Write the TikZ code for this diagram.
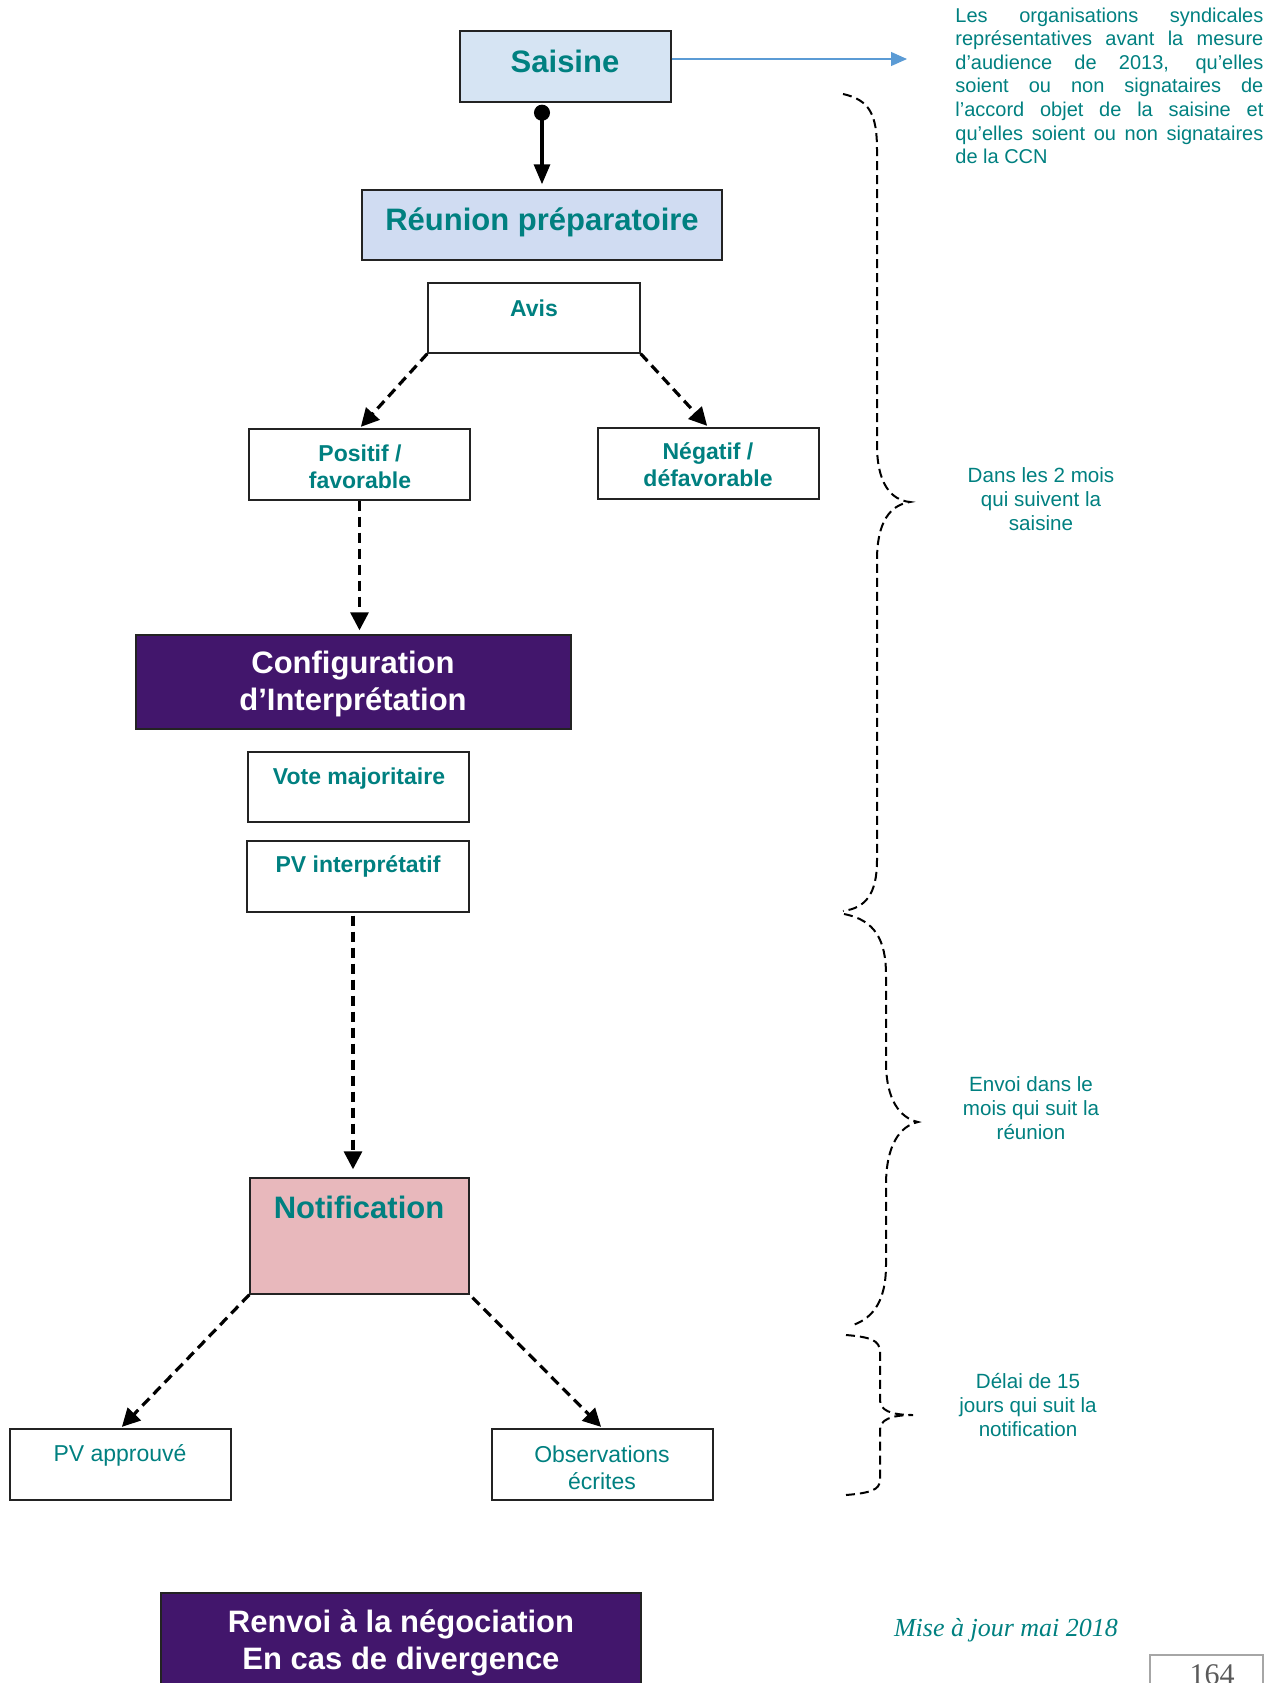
\documentclass[tikz,border=0pt]{standalone}
\usepackage{fontspec}
\setmainfont{Liberation Sans}
\newfontfamily\timesfont{Liberation Serif}
\usetikzlibrary{arrows.meta}
\definecolor{tealtxt}{RGB}{0,128,128}
\definecolor{boxline}{RGB}{35,35,35}
\definecolor{lightblue}{RGB}{214,228,243}
\definecolor{lightlilac}{RGB}{208,220,242}
\definecolor{darkpurple}{RGB}{66,22,108}
\definecolor{rosefill}{RGB}{232,184,188}
\definecolor{arrowblue}{RGB}{91,155,213}
\definecolor{pagegray}{RGB}{166,166,166}
\definecolor{numgray}{RGB}{90,90,90}
\begin{document}
\begin{tikzpicture}[x=0.5pt,y=-0.5pt,
  boxst/.style={draw=boxline, line width=0.7pt, rectangle, inner sep=0pt},
  bigtxt/.style={font=\fontsize{15.5}{18.5}\selectfont\bfseries, text=tealtxt, inner sep=0pt, anchor=base, align=center},
  whitetxt/.style={font=\fontsize{15.5}{18.5}\selectfont\bfseries, text=white, inner sep=0pt, anchor=base, align=center},
  midtxt/.style={font=\fontsize{11.5}{13.5}\selectfont\bfseries, text=tealtxt, inner sep=0pt, anchor=base, align=center},
  regtxt/.style={font=\fontsize{11.5}{13.5}\selectfont, text=tealtxt, inner sep=0pt, anchor=base, align=center},
  notetxt/.style={font=\fontsize{10.3}{12}\selectfont, text=tealtxt, inner sep=0pt, anchor=base, align=center},
  dconn/.style={line width=1.6pt, dash pattern=on 5pt off 3pt, -{Triangle[length=9pt,width=9pt]}},
  sconn/.style={line width=1.6pt, {Circle[length=8pt]}-{Triangle[length=10pt,width=8pt]}},
  bracest/.style={line width=1pt, dash pattern=on 4.5pt off 2.5pt},
]
\useasboundingbox (0,0) rectangle (1282,1683);

% boxes
\node[boxst, fill=lightblue, minimum width=105.5pt, minimum height=35.5pt] (saisine) at (565.5,66.5) {};
\node[boxst, fill=lightlilac, minimum width=180pt, minimum height=35pt] (reunion) at (542,225) {};
\node[boxst, minimum width=106pt, minimum height=35pt] (avis) at (534,318) {};
\node[boxst, minimum width=110.5pt, minimum height=35.5pt] (positif) at (359.5,464.5) {};
\node[boxst, minimum width=110.5pt, minimum height=35.5pt] (negatif) at (708.5,463.5) {};
\node[boxst, fill=darkpurple, minimum width=217.5pt, minimum height=47pt] (config) at (353.5,682) {};
\node[boxst, minimum width=110.5pt, minimum height=35pt] (vote) at (358.5,787) {};
\node[boxst, minimum width=111pt, minimum height=35.5pt] (pvint) at (358,876.5) {};
\node[boxst, fill=rosefill, minimum width=109.5pt, minimum height=58pt] (notif) at (359.5,1236) {};
\node[boxst, minimum width=110.5pt, minimum height=35.5pt] (pvapp) at (120.5,1464.5) {};
\node[boxst, minimum width=110.5pt, minimum height=35.5pt] (obs) at (602.5,1464.5) {};
\node[boxst, fill=darkpurple, minimum width=240pt, minimum height=63.5pt] (renvoi) at (401,1656.5) {};
\node[draw=pagegray, line width=1pt, rectangle, inner sep=0pt, minimum width=56.5pt, minimum height=32.5pt] (pagebox) at (1206.5,1687.5) {};

% texts (multi-line nodes: base = last line)
\node[bigtxt] (saisine-t) at (565,72) {Saisine};
\node[bigtxt] (reunion-t) at (542,230) {Réunion préparatoire};
\node[midtxt] (avis-t) at (534,316) {Avis};
\node[midtxt] (positif-t) at (360,488) {Positif /\\favorable};
\node[midtxt] (negatif-t) at (708,486) {Négatif /\\défavorable};
\node[whitetxt] (config-t) at (353,710) {Configuration\\d’Interprétation};
\node[midtxt] (vote-t) at (359,784) {Vote majoritaire};
\node[midtxt] (pvint-t) at (358,872) {PV interprétatif};
\node[bigtxt] (notif-t) at (359,1218) {Notification};
\node[regtxt] (pvapp-t) at (120,1461) {PV approuvé};
\node[regtxt] (obs-t) at (602,1489) {Observations\\écrites};
\node[whitetxt] (renvoi-t) at (401,1669) {Renvoi à la négociation\\En cas de divergence};

\node[anchor=base west, text width=154pt, align=justify, font=\fontsize{10}{11.8}\selectfont, text=tealtxt, inner sep=0pt] (tr) at (955,22)
 {Les organisations syndicales\linebreak représentatives avant la mesure\linebreak d’audience de 2013, qu’elles\linebreak soient ou non signataires de\linebreak l’accord objet de la saisine et\linebreak qu’elles soient ou non signataires\linebreak de la CCN};

\node[notetxt] (note1) at (1041,530) {Dans les 2 mois\\qui suivent la\\saisine};
\node[notetxt] (note2) at (1031,1139) {Envoi dans le\\mois qui suit la\\réunion};
\node[notetxt] (note3) at (1028,1436) {Délai de 15\\jours qui suit la\\notification};

\node[font={\fontsize{13}{15}\timesfont\itshape}, text=tealtxt, anchor=base, inner sep=0pt] (maj) at (1006,1636) {Mise à jour mai 2018};
\node[font={\fontsize{15}{17}\timesfont}, text=numgray, anchor=base, inner sep=0pt] (pagenum) at (1212,1684) {164};

% connectors
\coordinate (bluetip) at (907,59);
\draw[arrowblue, line width=0.6pt, -{Triangle[length=8pt,width=7pt]}] (saisine.east |- bluetip) -- (bluetip);
\draw[sconn, shorten <=1pt, shorten >=2.5pt] (reunion.north |- saisine.south) -- (reunion.north);
\draw[dconn, shorten >=1pt] (avis.south west) -- (positif.north);
\draw[dconn, shorten >=1pt] (avis.south east) -- (negatif.north);
\draw[dconn, shorten >=2pt] (positif.south) -- (positif.south |- config.north);
\draw[dconn, shorten <=1.5pt, shorten >=4pt] ([xshift=-2.5pt]pvint.south) -- ([xshift=-2.5pt]pvint.south |- notif.north);
\draw[dconn, shorten >=1pt] (notif.south west) -- (pvapp.north);
\draw[dconn, shorten <=2pt, shorten >=1pt] (notif.south east) -- (obs.north);

% braces
\draw[bracest] (843,94) .. controls (870,100) and (877,115) .. (877,150) -- (877,445)
  .. controls (877,482) and (890,500) .. (910,502)
  .. controls (890,505) and (877,522) .. (877,560) -- (877,860)
  .. controls (877,895) and (865,908) .. (843,911);
\draw[bracest] (844,914) .. controls (875,920) and (886,940) .. (886,975) -- (886,1062)
  .. controls (886,1100) and (900,1118) .. (918,1122)
  .. controls (900,1126) and (886,1145) .. (886,1185) -- (886,1265)
  .. controls (886,1305) and (870,1320) .. (850,1326);
\draw[bracest] (846,1335) .. controls (870,1337) and (880,1340) .. (880,1352) -- (880,1400)
  .. controls (880,1410) and (890,1415) .. (913,1415)
  .. controls (890,1415) and (880,1420) .. (880,1430) -- (880,1480)
  .. controls (880,1490) and (870,1493) .. (846,1495);
\end{tikzpicture}
\end{document}
